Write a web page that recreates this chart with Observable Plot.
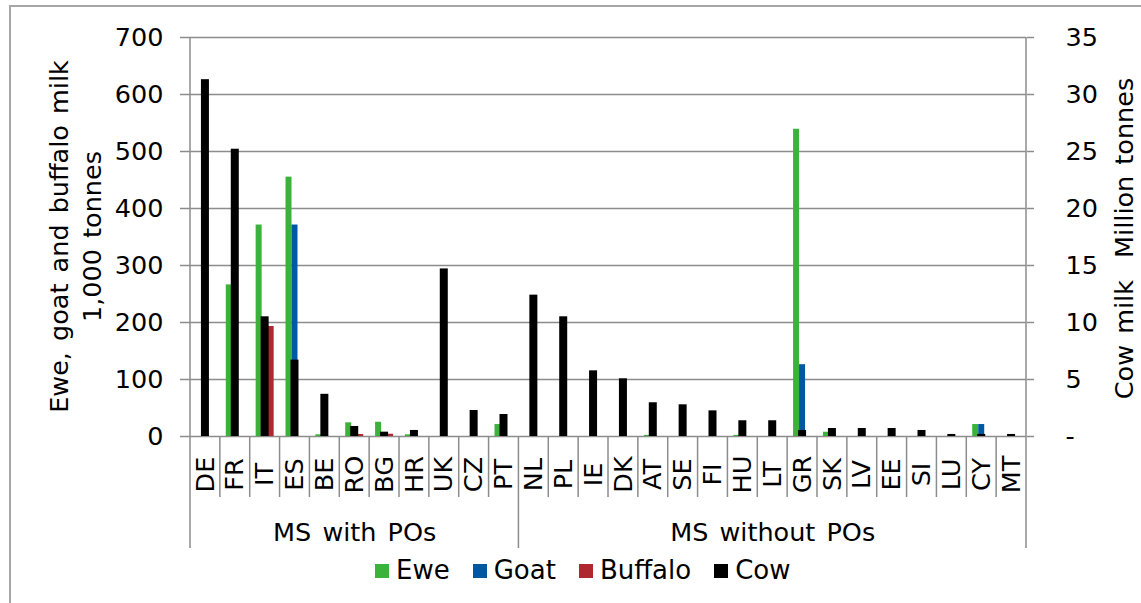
<!DOCTYPE html>
<html><head><meta charset="utf-8">
<script src="https://cdn.jsdelivr.net/npm/d3@7"></script>
<script src="https://cdn.jsdelivr.net/npm/@observablehq/plot@0.6"></script>
<style>
html,body{margin:0;padding:0;background:#fff;overflow:hidden;}
body{width:1141px;height:603px;position:relative;font-family:"DejaVu Sans",Verdana,sans-serif;}
#frame{position:absolute;left:9px;top:5px;width:1300px;height:800px;border-left:2px solid #a6a6a6;border-top:2px solid #a6a6a6;}
#chart{position:absolute;left:0;top:0;}
#chart svg text{word-spacing:3px;}
#legend{position:absolute;left:375px;top:556px;display:flex;align-items:center;font-size:26px;line-height:29px;color:#000;white-space:nowrap;}
#legend .item{display:flex;align-items:center;margin-right:23px;}
#legend .sw{width:14px;height:14px;margin-right:7px;}
</style>
</head><body>
<div id="frame"></div>
<div id="chart"></div>
<div id="legend"></div>
<script>
// ---- data ----
const groupWith = ["DE","FR","IT","ES","BE","RO","BG","HR","UK","CZ","PT"];
const groupWithout = ["NL","PL","IE","DK","AT","SE","FI","HU","LT","GR","SK","LV","EE","SI","LU","CY","MT"];
const countries = [...groupWith, ...groupWithout];
const groupLabels = ["MS with POs", "MS without POs"];
// 1,000 tonnes (left axis)
const ewe     = [0,266,371,455,3,24,25,3,0,0,21, 0,0,0,0,2,0,0,2,0,539,7.5,0,0,0,0,21,0];
const goat    = [0,470,0,371,0,0,0,0,0,0,0, 0,0,0,0,0,0,0,0,0,126,0,0,0,0,0,21,0];
const buffalo = [0,0,193,0,0,3.5,4,0,0,0,0, 0,0,0,0,0,0,0,0,0,0,0,0,0,0,0,0,0];
// million tonnes (right axis)
const cow     = [31.3,25.2,10.5,6.7,3.7,0.88,0.38,0.53,14.7,2.28,1.93, 12.4,10.5,5.76,5.06,2.96,2.78,2.25,1.38,1.38,0.53,0.7,0.7,0.7,0.53,0.18,0.18,0.18];
const leftTicks = [0,100,200,300,400,500,600,700];
const rightTickLabels = ["-","5","10","15","20","25","30","35"];
const cowFactor = 700 / 35; // right axis 0..35 maps onto left axis 0..700
const seriesNames = ["Ewe","Goat","Buffalo","Cow"];
const seriesColors = ["#3bb33b","#0058a3","#b0282f","#000000"];
const leftTitle = ["Ewe, goat and buffalo milk", "1,000 tonnes"];
const rightTitle = "Cow milk  Million tonnes";

// ---- layout ----
const W = 1141, H = 552, mL = 190, mR = 115, mT = 37, mB = 116;
const bw = (W - mL - mR) / countries.length;

const rows = (arr, s) => countries.map((c, i) => ({country: c, value: arr[i], series: s}));
const eweRows = rows(ewe, "Ewe"), goatRows = rows(goat, "Goat"),
      bufRows = rows(buffalo, "Buffalo"), cowRows = rows(cow, "Cow");

const grpData = [
  {label: groupLabels[0], mid: groupWith[Math.floor(groupWith.length/2)]},
  {label: groupLabels[1], mid: groupWithout[Math.floor(groupWithout.length/2)]}
];

const gray = "#8c8c8c";
const chart = Plot.plot({
  width: W, height: H,
  marginLeft: mL, marginRight: mR, marginTop: mT, marginBottom: mB,
  style: {fontFamily: "DejaVu Sans, Verdana, sans-serif", fontSize: "25.5px", background: "transparent", color: "#000"},
  x: {domain: countries, padding: 0, round: false, axis: null},
  y: {domain: [0, 700], axis: null},
  color: {domain: seriesNames, range: seriesColors},
  marks: [
    Plot.ruleY(leftTicks, {stroke: gray, strokeWidth: 1.5}),
    Plot.axisY({anchor: "left", ticks: leftTicks, tickSize: 10, tickPadding: 17, stroke: gray, strokeWidth: 1.5, fill: "#000", label: null}),
    Plot.axisY({anchor: "right", ticks: leftTicks, tickSize: 7, tickPadding: 32, stroke: gray, strokeWidth: 1.5, fill: "#000", label: null,
      tickFormat: d => rightTickLabels[leftTicks.indexOf(d)]}),
    Plot.barY(eweRows, {x: "country", y: "value", fill: "series", insetLeft: bw/2 - 9, insetRight: bw/2 + 3}),
    Plot.barY(goatRows, {x: "country", y: "value", fill: "series", insetLeft: bw/2 - 3, insetRight: bw/2 - 3}),
    Plot.barY(bufRows, {x: "country", y: "value", fill: "series", insetLeft: bw/2 + 3, insetRight: bw/2 - 9}),
    Plot.barY(cowRows, {x: "country", y: d => d.value * cowFactor, fill: "series", insetLeft: bw/2 - 4, insetRight: bw/2 - 4}),
    Plot.text(countries, {x: d => d, text: d => d, frameAnchor: "bottom", dy: 38, rotate: -90, textAnchor: "middle", lineAnchor: "middle", fill: "#000"}),
    Plot.text(grpData, {x: "mid", text: "label", frameAnchor: "bottom", dy: 96, textAnchor: "middle", lineAnchor: "middle", fill: "#000"})
  ]
});
document.getElementById("chart").appendChild(chart);

// separators, axis lines and axis titles using the plot's scales
const xs = chart.scale("x"), ys = chart.scale("y");
const svg = d3.select(chart);
const y0 = ys.apply(0), yTop = ys.apply(700);
const sep = svg.append("g").attr("stroke", gray).attr("stroke-width", 1.5);
const groupEdges = new Set([0, groupWith.length, countries.length]);
for (let i = 0; i <= countries.length; i++) {
  const xv = i < countries.length ? xs.apply(countries[i]) : xs.apply(countries[i-1]) + xs.bandwidth;
  const isGroup = groupEdges.has(i);
  sep.append("line").attr("x1", xv).attr("x2", xv)
    .attr("y1", (i === 0 || i === countries.length) ? yTop : y0)
    .attr("y2", isGroup ? y0 + 112 : y0 + 61);
}
const yMid = (y0 + yTop) / 2;
const addTitle = (x, y, s) => svg.append("text")
  .attr("transform", `translate(${x},${y}) rotate(-90)`).attr("text-anchor", "middle")
  .attr("fill", "#000").attr("font-size", 25.5).style("white-space", "pre").text(s);
addTitle(68, yMid, leftTitle[0]);
addTitle(101, yMid, leftTitle[1]);
addTitle(1133, yMid + 2, rightTitle);

// legend
const lg = d3.select("#legend");
seriesNames.forEach((s, i) => {
  const it = lg.append("div").attr("class", "item");
  it.append("div").attr("class", "sw").style("background", seriesColors[i]);
  it.append("span").text(s);
});
</script>
</body></html>
